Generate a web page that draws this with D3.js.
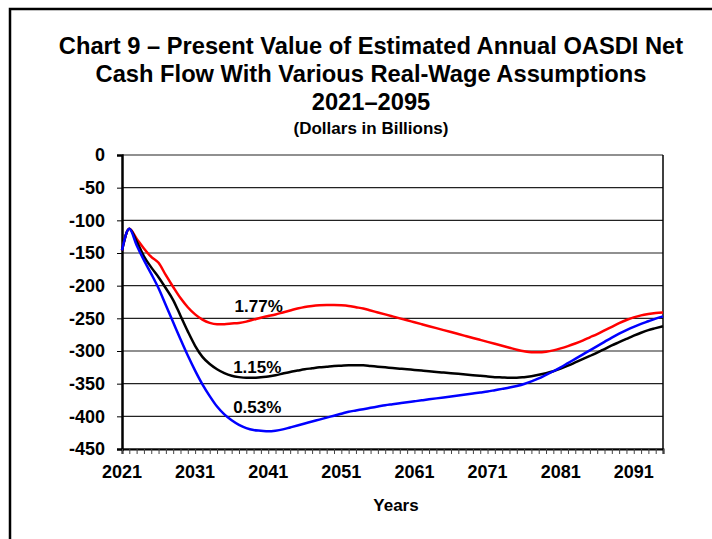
<!DOCTYPE html>
<html>
<head>
<meta charset="utf-8">
<script src="https://cdn.jsdelivr.net/npm/d3@7"></script>
<style>
  body { margin: 0; background: #fff; }
  text { font-family: "Liberation Sans", Arial, sans-serif; font-weight: bold; fill: #000; }
</style>
</head>
<body>
<div id="chart"></div>
<script>
// years 2021..2095
const years = d3.range(2021, 2096);

const titleLines = [
  "Chart 9 \u2013 Present Value of Estimated Annual OASDI Net",
  "Cash Flow With Various Real-Wage Assumptions",
  "2021\u20132095",
];
const subtitle = "(Dollars in Billions)";
const xTickYears = [2021, 2031, 2041, 2051, 2061, 2071, 2081, 2091];
const yTicks = [0, -50, -100, -150, -200, -250, -300, -350, -400, -450];

// 1.77% real-wage differential
const high = [
  -146, -113, -128, -143, -156, -165, -184, -202, -219, -233,
  -244, -252, -257, -259, -259, -258, -257, -255, -252, -249,
  -246.5, -244, -241, -238, -235, -232.5, -231, -230, -229.5, -229.5,
  -230, -231, -233, -235, -238, -241, -244, -247, -250, -253,
  -256, -259, -262, -265, -268, -271, -274, -277, -280, -283,
  -286, -289, -292, -295, -298, -300.5, -302, -302, -301, -299,
  -296, -292.5, -288.5, -284, -279, -274, -268.5, -263, -257.5, -252.5,
  -248.5, -245.5, -243.5, -242, -241,
];
// 1.15%
const mid = [
  -146, -113, -132, -155, -172, -187, -204, -222, -246, -270,
  -292, -309, -320, -328, -334, -338, -340, -341, -341, -340,
  -339, -337, -334.5, -332, -330, -328, -326.5, -325, -324, -323,
  -322.5, -322, -322, -322, -323, -324, -325, -326, -327, -328,
  -329, -330, -331, -332, -333, -334, -335, -336, -337, -338,
  -339, -340, -340.5, -341, -341, -340, -338.5, -336.5, -334, -331,
  -327, -322.5, -317.5, -312.5, -307.5, -302.5, -297, -291.5, -286.5, -281.5,
  -276.5, -272, -268, -265, -262,
];
// 0.53%
const low = [
  -146, -113, -138, -161, -182, -204, -230, -256, -282, -307,
  -330, -351, -369, -385, -397, -406, -413, -418, -421, -422,
  -423, -422, -420, -417, -414, -411, -408, -405, -402, -399,
  -396, -393, -391, -389, -387, -385, -383, -381.5, -380, -378.5,
  -377, -375.5, -374, -372.5, -371, -369.5, -368, -366.5, -365, -363.5,
  -362, -360, -358, -356, -353.5, -350.5, -346.5, -342, -336.5, -331,
  -325, -318.5, -312, -305.5, -299, -292.5, -286, -279.5, -273.5, -268,
  -263, -258.5, -254.5, -250.5, -247,
];

const series = [
  { name: "1.77%", values: high, color: "#ff0000", label: { year: 2039.7, value: -240 } },
  { name: "1.15%", values: mid, color: "#000000", label: { year: 2039.5, value: -334 } },
  { name: "0.53%", values: low, color: "#0000ff", label: { year: 2039.5, value: -395 } },
];

class NetCashFlow {
  width = 712;
  height = 539;
  plot = { left: 122, right: 663, top: 155, bottom: 449 };

  xScale = d3.scaleLinear().domain([2021, 2095]).range([this.plot.left, this.plot.right]);
  yScale = d3.scaleLinear().domain([-450, 0]).range([this.plot.bottom, this.plot.top]);

  constructor() {
    this.chart = this.chart.bind(this);
    this.draw = this.draw.bind(this);
  }

  chart(data, el) {
    const svg = el.append("svg").attr("width", this.width).attr("height", this.height);

    // outer frame (top and left only)
    svg.append("path")
      .attr("d", `M10,539 L10,9 L712,9`)
      .attr("fill", "none").attr("stroke", "#000").attr("stroke-width", 2.5);

    // titles
    svg.selectAll(".title")
      .data(titleLines)
      .enter().append("text")
      .attr("class", "title")
      .attr("x", 371)
      .attr("y", (_, i) => 54 + i * 28)
      .attr("text-anchor", "middle")
      .attr("font-size", 23.7)
      .text((d) => d);
    svg.append("text")
      .attr("x", 371).attr("y", 134)
      .attr("text-anchor", "middle").attr("font-size", 17)
      .text(subtitle);

    // grid lines
    svg.append("g")
      .selectAll("line")
      .data(yTicks)
      .enter().append("line")
      .attr("x1", this.plot.left).attr("x2", this.plot.right)
      .attr("y1", (d) => this.yScale(d)).attr("y2", (d) => this.yScale(d))
      .attr("stroke", "#222").attr("stroke-width", 1.2);

    // right frame
    svg.append("line")
      .attr("x1", this.plot.right).attr("x2", this.plot.right)
      .attr("y1", this.plot.top).attr("y2", this.plot.bottom)
      .attr("stroke", "#000").attr("stroke-width", 1.5);

    // y axis
    const yAxis = svg.append("g")
      .attr("transform", `translate(${this.plot.left},0)`)
      .call(d3.axisLeft(this.yScale).tickValues(yTicks).tickSize(5).tickPadding(12)
        .tickFormat((d) => String(d)));
    yAxis.select(".domain").attr("stroke-width", 2.5);
    yAxis.selectAll("text").attr("font-size", 18).attr("font-family", null);

    // x axis, a tick each year
    const xAxis = svg.append("g")
      .attr("transform", `translate(0,${this.plot.bottom})`)
      .call(d3.axisBottom(this.xScale).tickValues(years).tickSize(5).tickFormat(""));
    xAxis.select(".domain").attr("stroke-width", 2);
    xAxis.selectAll(".tick line").attr("stroke", "#444");
    svg.append("g")
      .selectAll("text")
      .data(xTickYears)
      .enter().append("text")
      .attr("x", (d) => this.xScale(d))
      .attr("y", this.plot.bottom + 29)
      .attr("text-anchor", "middle")
      .attr("font-size", 18)
      .text((d) => d);

    svg.append("text")
      .attr("x", 396).attr("y", 511)
      .attr("text-anchor", "middle").attr("font-size", 17)
      .text("Years");

    // lines
    const line = d3.line()
      .x((d, i) => this.xScale(years[i]))
      .y((d) => this.yScale(d))
      .curve(d3.curveMonotoneX);
    svg.append("g")
      .selectAll("path")
      .data(data)
      .enter().append("path")
      .attr("d", (d) => line(d.values))
      .attr("fill", "none")
      .attr("stroke", (d) => d.color)
      .attr("stroke-width", 2.5)
      .attr("stroke-linejoin", "round");

    svg.append("g")
      .selectAll("text")
      .data(data)
      .enter().append("text")
      .attr("x", (d) => this.xScale(d.label.year))
      .attr("y", (d) => this.yScale(d.label.value))
      .attr("text-anchor", "middle")
      .attr("font-size", 17)
      .text((d) => d.name);
  }

  draw(selection) {
    const chart = this.chart;
    selection.each(function (d) {
      chart(d, d3.select(this));
    });
  }
}

d3.select("#chart").datum(series).call(new NetCashFlow().draw);
</script>
</body>
</html>
